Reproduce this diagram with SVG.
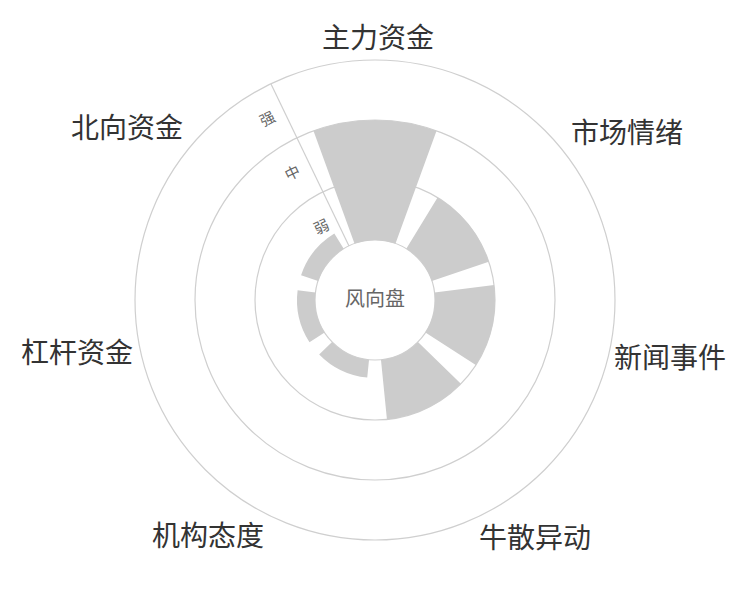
<svg xmlns="http://www.w3.org/2000/svg" width="750" height="600" viewBox="0 0 750 600">
<style>
.ring{fill:none;stroke:#cfcfcf;stroke-width:1.2}
.bar{fill:#cccccc}
.lab{font-family:"Noto Sans CJK SC",sans-serif;font-size:28px;fill:#333;text-anchor:middle;dominant-baseline:middle}
.lvl{font-family:"Noto Sans CJK SC",sans-serif;font-size:15px;fill:#666;text-anchor:middle;dominant-baseline:middle}
</style>
<rect width="750" height="600" fill="#fff"/>
<g id="rings">
<circle class="ring" cx="375" cy="300" r="240"/>
<circle class="ring" cx="375" cy="300" r="180"/>
<circle class="ring" cx="375" cy="300" r="120"/>
<circle class="ring" cx="375" cy="300" r="60"/>
</g>
<g id="bars">
<path id="b1" class="bar" d="M354.48,243.62 L313.44,130.85 A180,180 0 0 1 436.56,130.85 L395.52,243.62 A60,60 0 0 0 354.48,243.62Z"/>
<path id="b2" class="bar" d="M406.29,248.8 L437.58,197.6 A120,120 0 0 1 488.75,261.78 L431.87,280.89 A60,60 0 0 0 406.29,248.8Z"/>
<path id="b3" class="bar" d="M434.53,292.54 L494.07,285.08 A120,120 0 0 1 475.8,365.1 L425.4,332.55 A60,60 0 0 0 434.53,292.54Z"/>
<path id="b4" class="bar" d="M417.95,341.9 L460.9,383.8 A120,120 0 0 1 386.94,419.4 L380.97,359.7 A60,60 0 0 0 417.95,341.9Z"/>
<path id="b5" class="bar" d="M369.03,359.7 L367.24,377.61 A78,78 0 0 1 319.17,354.47 L332.05,341.9 A60,60 0 0 0 369.03,359.7Z"/>
<path id="b6" class="bar" d="M324.6,332.55 L309.48,342.32 A78,78 0 0 1 297.61,290.3 L315.47,292.54 A60,60 0 0 0 324.6,332.55Z"/>
<path id="b7" class="bar" d="M318.13,280.89 L301.06,275.16 A78,78 0 0 1 334.32,233.44 L343.71,248.8 A60,60 0 0 0 318.13,280.89Z"/>
</g>
<g id="connectors">
<line x1="349" y1="246" x2="271" y2="84" stroke="#cfcfcf" stroke-width="1.2"/>
</g>
<g id="levels">
<text class="lvl" transform="translate(268,120) rotate(-25.7)">强</text>
<text class="lvl" transform="translate(293,174) rotate(-25.7)">中</text>
<text class="lvl" transform="translate(322,228) rotate(-25.7)">弱</text>
</g>
<g id="labels">
<text class="lab" x="378" y="40">主力资金</text>
<text class="lab" x="627" y="135">市场情绪</text>
<text class="lab" x="670" y="360">新闻事件</text>
<text class="lab" x="535" y="540">牛散异动</text>
<text class="lab" x="208" y="538">机构态度</text>
<text class="lab" x="77" y="355">杠杆资金</text>
<text class="lab" x="127" y="130">北向资金</text>
<text x="375" y="301" font-family="Noto Sans CJK SC,sans-serif" font-size="20" fill="#666" text-anchor="middle" dominant-baseline="middle">风向盘</text>
</g>
</svg>
